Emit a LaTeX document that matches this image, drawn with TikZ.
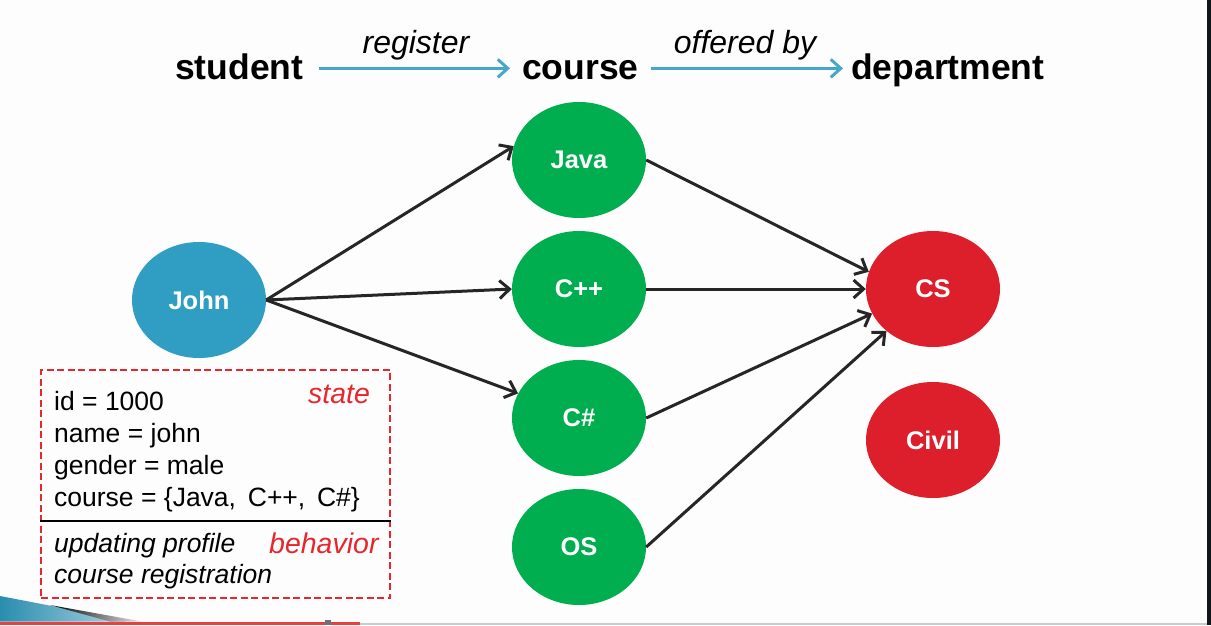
\documentclass[tikz,border=0pt]{standalone}
\usepackage{fontspec}
\setmainfont{Liberation Sans}
\usetikzlibrary{shapes.geometric,arrows.meta}
\definecolor{johnblue}{HTML}{2F9EC2}
\definecolor{coursegreen}{HTML}{00AE50}
\definecolor{deptred}{HTML}{DC1F2A}
\definecolor{hdrarrow}{HTML}{45A8C8}
\definecolor{boxred}{HTML}{E8262E}
\definecolor{linkgray}{HTML}{262626}
\definecolor{bgwhite}{HTML}{FDFDFD}
\definecolor{stripdark}{HTML}{11161D}
\definecolor{swooshblue}{HTML}{2A8DAF}
\definecolor{bottomred}{HTML}{E84040}
\definecolor{bottomgray}{HTML}{C8CCCC}
\definecolor{squaregray}{HTML}{6B7078}
\tikzset{
  blob/.style={ellipse, minimum width=134pt, minimum height=116pt, inner sep=0pt,
    text=white, font=\fontsize{25.5}{30}\selectfont\bfseries},
  studentblob/.style={blob, fill=johnblue},
  courseblob/.style={blob, fill=coursegreen},
  deptblob/.style={blob, fill=deptred},
  hdr/.style={anchor=base west, inner sep=0pt, font=\fontsize{35.5}{40}\selectfont\bfseries},
  hdrlabel/.style={anchor=base, inner sep=0pt, font=\fontsize{32}{36}\selectfont\itshape},
  hdrlink/.style={draw=hdrarrow, line width=3pt, -{Straight Barb[length=10pt,width=18pt]}},
  link/.style={draw=linkgray, line width=3pt, -{Straight Barb[length=10pt,width=18pt]}},
  boxtext/.style={anchor=base west, inner sep=0pt, font=\fontsize{26.5}{30}\selectfont},
  boxitalic/.style={boxtext, font=\fontsize{26.5}{30}\selectfont\itshape},
  redtag/.style={anchor=base west, inner sep=0pt, text=boxred, font=\fontsize{28.5}{32}\selectfont\itshape},
}
\begin{document}
\begin{tikzpicture}[x=1pt,y=-1pt]
\useasboundingbox (0,0) rectangle (1211,625);
\fill[bgwhite] (0,0) rectangle (1211,625);
% frame decorations
\fill[stripdark] (1207,0) rectangle (1211,625);
\fill[bottomgray] (360,622.5) rectangle (1207,625);
\fill[bottomred] (0,621.5) rectangle (360,625);
\fill[squaregray] (325,620) rectangle (331,625);
\shade[left color=swooshblue, right color=swooshblue!40!white] (0,596) -- (125,620) -- (125,621.5) -- (0,621.5) -- cycle;
\shade[left color=black, right color=black!10!white] (50,605) -- (142,621.5) -- (110,621.5) -- cycle;

% header
\node[hdr] (student) at (175,79) {student};
\node[hdr] (course) at (522,79) {course};
\node[hdr] (department) at (851,79) {department};
\path[hdrlink, shorten <=15pt, shorten >=12pt] ([yshift=8pt]student.mid east) -- ([yshift=8pt]course.mid west);
\path[hdrlink, shorten <=12pt, shorten >=8pt] ([yshift=8pt]course.mid east) -- ([yshift=8pt]department.mid west);
\node[hdrlabel] (register) at (416,53) {register};
\node[hdrlabel] (offered) at (745,53) {offered by};

% nodes
\node[studentblob] (john) at (199,300) {John};
\node[courseblob] (java) at (579,160) {Java};
\node[courseblob] (cpp) at (579,289) {C++};
\node[courseblob] (csharp) at (579,418) {C\#};
\node[courseblob] (os) at (579,547) {OS};
\node[deptblob] (cs) at (933,289) {CS};
\node[deptblob] (civil) at (933,440) {Civil};

% links
\path[link] (john.east) -- (java.168);
\path[link] (john.east) -- (cpp.west);
\path[link] (john.east) -- (csharp.158);
\path[link] (java.east) -- (cs.165);
\path[link] (cpp.east) -- (cs.west);
\path[link] (csharp.east) -- (cs.202);
\path[link] (os.east) -- (cs.222);

% state / behavior box
\node[draw=boxred, line width=2.5pt, dash pattern=on 7pt off 3.5pt, minimum width=349pt,
  minimum height=228pt, inner sep=0pt] (box) at (215.5,484) {};
\draw[black, line width=2.5pt] ([yshift=-37pt]box.west) -- ([yshift=-37pt]box.east);
\node[boxtext] (l1) at (54,410) {id = 1000};
\node[boxtext] (l2) at (54,442) {name = john};
\node[boxtext] (l3) at (54,474) {gender = male};
\node[boxtext] (l4) at (54,506) {course = \{Java,\, C++,\, C\#\}};
\node[boxitalic] (b1) at (54,552) {updating profile};
\node[boxitalic] (b2) at (54,583) {course registration};
\node[redtag] (state) at (308,403) {state};
\node[redtag] (behavior) at (269,553) {behavior};
\end{tikzpicture}
\end{document}
